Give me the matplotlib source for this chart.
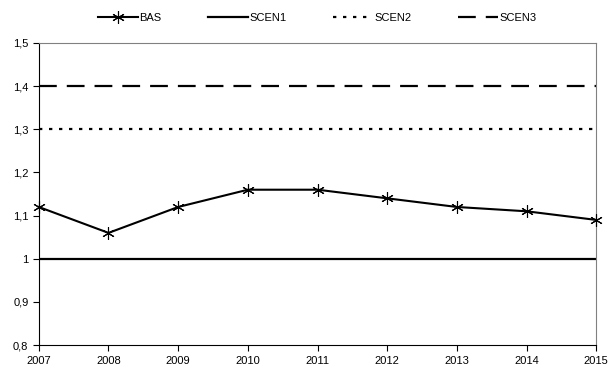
import matplotlib
matplotlib.use("Agg")
import matplotlib.pyplot as plt

plt.rcParams['font.family'] = ['Liberation Sans', 'DejaVu Sans']

# data
years = [2007, 2008, 2009, 2010, 2011, 2012, 2013, 2014, 2015]
bas = [1.12, 1.06, 1.12, 1.16, 1.16, 1.14, 1.12, 1.11, 1.09]
scen1 = [1.0] * len(years)
scen2 = [1.3] * len(years)
scen3 = [1.4] * len(years)
yticks = [0.8, 0.9, 1.0, 1.1, 1.2, 1.3, 1.4, 1.5]
ylabels = ['0,8', '0,9', '1', '1,1', '1,2', '1,3', '1,4', '1,5']

fig = plt.figure(figsize=(6.16, 3.9), dpi=100)
ax = fig.add_axes([0.063, 0.115, 0.905, 0.775])

ax.plot(years, bas, color='black', lw=1.5, marker=(6, 2, 0), markersize=9,
        markeredgewidth=0.8, label='BAS', clip_on=False, zorder=5)
ax.plot(years, scen1, color='black', lw=1.6, label='SCEN1')
ax.plot(years, scen2, color='black', lw=1.6, linestyle=(0, (1.5, 3)), label='SCEN2')
ax.plot(years, scen3, color='black', lw=1.6, linestyle=(0, (8, 4.5)), label='SCEN3')

ax.set_xlim(2007, 2015)
ax.set_ylim(0.8, 1.5)
ax.set_xticks(years)
ax.set_yticks(yticks)
ax.set_yticklabels(ylabels)
ax.tick_params(direction='out', length=4, width=0.8, labelsize=8, colors='black')
ax.tick_params(axis='x', pad=4)

for side in ['top', 'right']:
    ax.spines[side].set_color('#808080')
for side in ['left', 'bottom']:
    ax.spines[side].set_color('black')

fig.legend(loc='center', bbox_to_anchor=(0.515, 0.955), ncol=4, frameon=False,
           fontsize=8, handlelength=3.6, handletextpad=0.1, columnspacing=4.2)

fig.savefig('out.png', dpi=100)
